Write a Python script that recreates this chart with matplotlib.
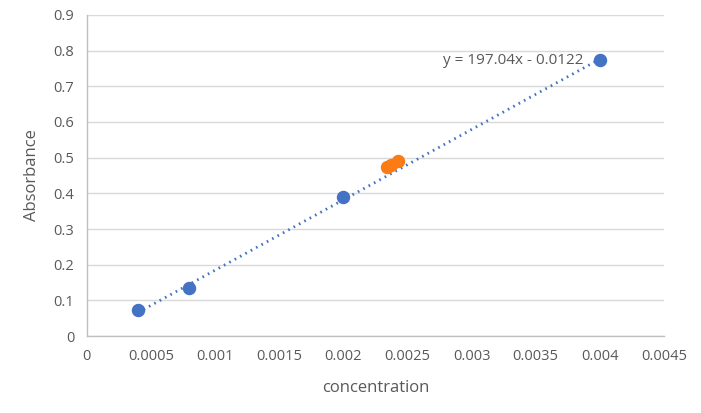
import matplotlib.pyplot as plt
import numpy as np

# standards (blue) and samples (orange)
std_conc = [0.0004, 0.0008, 0.002, 0.004]
std_abs = [0.073, 0.135, 0.389, 0.773]
smp_conc = [0.00234, 0.00237, 0.00243]
smp_abs = [0.474, 0.479, 0.490]

slope, intercept = 197.04, -0.0122

plt.rcParams['font.family'] = ['Open Sans', 'DejaVu Sans']
txt = '#595959'

fig = plt.figure(figsize=(7.01, 4.13), dpi=100)
ax = fig.add_axes([0.124, 0.186, 0.823, 0.778])

# trendline over the range of the standards
xt = np.linspace(min(std_conc), max(std_conc), 50)
ax.plot(xt, slope * xt + intercept, color='#4472c4', lw=2, ls=(0, (0.6, 1.6)), zorder=2)

ax.scatter(std_conc, std_abs, s=75, color='#4472c4', zorder=3)
ax.scatter(smp_conc, smp_abs, s=75, color='#fb7b14', zorder=3)

ax.text(0.00387, 0.772, 'y = 197.04x - 0.0122', ha='right', va='center',
        fontsize=11, color=txt)

ax.set_xlim(0, 0.0045)
ax.set_ylim(0, 0.9)
ax.set_xticks(np.arange(0, 0.00451, 0.0005))
ax.set_xticklabels(['0', '0.0005', '0.001', '0.0015', '0.002', '0.0025',
                    '0.003', '0.0035', '0.004', '0.0045'])
ax.set_yticks(np.arange(0, 0.91, 0.1))
ax.set_yticklabels(['0', '0.1', '0.2', '0.3', '0.4', '0.5', '0.6', '0.7', '0.8', '0.9'])
ax.tick_params(length=0, labelsize=10.5, colors=txt, pad=9)
ax.grid(axis='y', color='#d9d9d9', lw=1)
ax.set_axisbelow(True)
for s in ['top', 'right']:
    ax.spines[s].set_visible(False)
for s in ['left', 'bottom']:
    ax.spines[s].set_color('#bfbfbf')
    ax.spines[s].set_linewidth(1)

ax.set_xlabel('concentration', fontsize=12, color=txt, labelpad=12)
ax.set_ylabel('Absorbance', fontsize=12, color=txt, labelpad=10)

fig.savefig('out.png', dpi=100)
